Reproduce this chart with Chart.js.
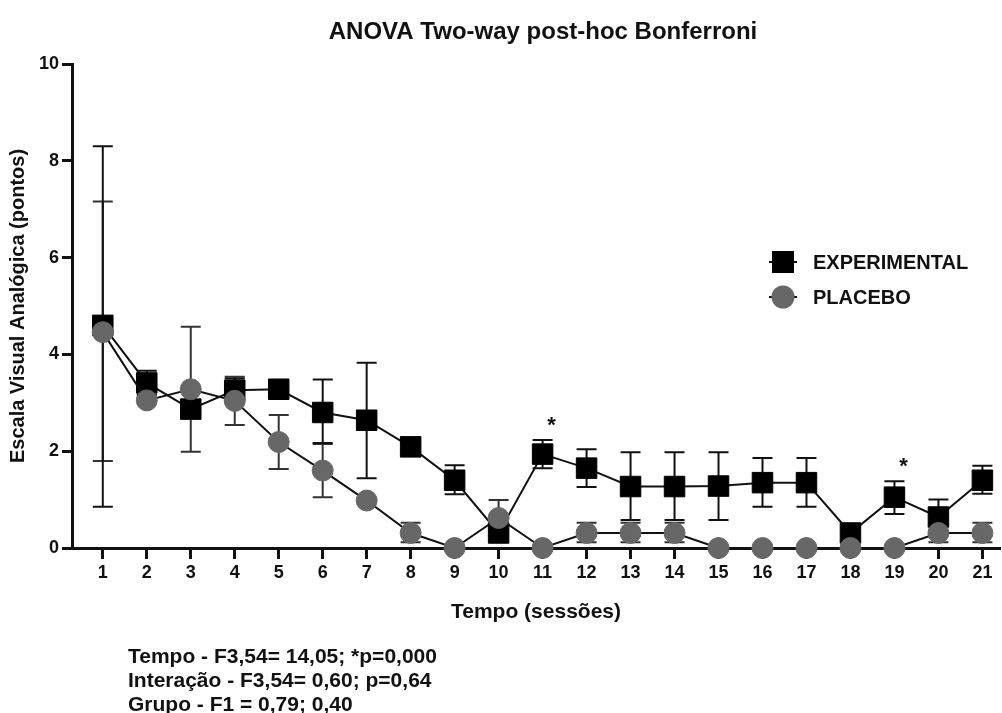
<!DOCTYPE html>
<html>
<head>
<meta charset="utf-8">
<title>ANOVA Two-way post-hoc Bonferroni</title>
<script src="https://cdn.jsdelivr.net/npm/chart.js@4.4.1/dist/chart.umd.min.js"></script>
<style>
    html, body { margin: 0; padding: 0; background: #fff; }
    #wrap { position: relative; width: 1002px; height: 713px; }
    #stats {
        position: absolute; left: 128px; top: 644px;
        font: bold 21px "Liberation Sans", Arial, sans-serif;
        line-height: 24px; color: #111;
    }
</style>
</head>
<body>
<div id="wrap">
    <canvas id="chart" width="1002" height="713"></canvas>
    <div id="stats">
        Tempo - F3,54= 14,05; *p=0,000<br>
        Interação - F3,54= 0,60; p=0,64<br>
        Grupo - F1 = 0,79; 0,40
    </div>
</div>
<script>
var sessions = [1, 2, 3, 4, 5, 6, 7, 8, 9, 10, 11, 12, 13, 14, 15, 16, 17, 18, 19, 20, 21];

var expMean = [4.6, 3.41, 2.87, 3.26, 3.28, 2.8, 2.64, 2.09, 1.4, 0.31, 1.94, 1.65, 1.27, 1.27, 1.28, 1.35, 1.35, 0.31, 1.05, 0.64, 1.4];
var expHigh = [8.3, 3.66, null, 3.5, null, 3.48, 3.83, null, 1.71, null, 2.23, 2.04, 1.98, 1.98, 1.98, 1.86, 1.86, null, 1.38, 1.0, 1.7];
var expLow  = [0.85, 3.16, null, 3.02, null, 2.17, 1.44, null, 1.11, null, 1.65, 1.26, 0.58, 0.58, 0.58, 0.85, 0.85, null, 0.7, 0.28, 1.12];

var plaMean = [4.46, 3.05, 3.28, 3.04, 2.19, 1.6, 0.98, 0.31, 0, 0.62, 0, 0.31, 0.31, 0.31, 0, 0, 0, 0, 0, 0.31, 0.31];
var plaHigh = [7.16, null, 4.57, 3.54, 2.75, 2.15, null, 0.52, null, 0.99, null, 0.52, 0.52, 0.52, null, null, null, null, null, 0.52, 0.52];
var plaLow  = [1.8, null, 1.99, 2.54, 1.63, 1.05, null, 0.12, null, 0.25, null, 0.12, 0.12, 0.12, null, null, null, null, null, 0.12, 0.12];

var starSessions = [11, 19];

var yTicks = [0, 2, 4, 6, 8, 10];

var FONT = '"Liberation Sans", Arial, sans-serif';

function toPoints(values) {
    return sessions.map(function(s, i) { return { x: s, y: values[i] }; });
}

var errorBars = {
    id: 'errorBars',
    beforeDatasetsDraw: function(chart) {
        var ctx = chart.ctx;
        var xs = chart.scales.x, ys = chart.scales.y;
        var sets = [
            { hi: plaHigh, lo: plaLow, color: '#333' },
            { hi: expHigh, lo: expLow, color: '#111' }
        ];
        ctx.save();
        ctx.lineWidth = 2;
        sets.forEach(function(set) {
            ctx.strokeStyle = set.color;
            sessions.forEach(function(s, i) {
                if (set.hi[i] == null) return;
                var px = xs.getPixelForValue(s);
                var top = ys.getPixelForValue(set.hi[i]);
                var bot = ys.getPixelForValue(set.lo[i]);
                ctx.beginPath();
                ctx.moveTo(px, top); ctx.lineTo(px, bot);
                ctx.moveTo(px - 10, top); ctx.lineTo(px + 10, top);
                ctx.moveTo(px - 10, bot); ctx.lineTo(px + 10, bot);
                ctx.stroke();
            });
        });
        ctx.restore();
    },
    afterDraw: function(chart) {
        var ctx = chart.ctx;
        var xs = chart.scales.x, ys = chart.scales.y;
        ctx.save();
        // title
        ctx.fillStyle = '#111';
        ctx.textAlign = 'center';
        ctx.textBaseline = 'middle';
        ctx.font = 'bold 24px ' + FONT;
        ctx.fillText('ANOVA Two-way post-hoc Bonferroni', 543, 32);

        // significance stars
        ctx.font = 'bold 22px ' + FONT;
        starSessions.forEach(function(s) {
            var i = sessions.indexOf(s);
            var px = xs.getPixelForValue(s);
            var py = ys.getPixelForValue(expHigh[i]);
            ctx.fillText('*', px + 9, py - 14);
        });

        // legend
        ctx.textAlign = 'left';
        ctx.font = 'bold 20px ' + FONT;
        chart.data.datasets.forEach(function(ds, k) {
            var cy = 262 + k * 35;
            var cx = 783;
            ctx.strokeStyle = '#111';
            ctx.lineWidth = 2;
            ctx.beginPath();
            ctx.moveTo(cx - 14, cy); ctx.lineTo(cx + 14, cy);
            ctx.stroke();
            ctx.fillStyle = ds.pointBackgroundColor;
            if (ds.pointStyle === 'rect') {
                ctx.fillRect(cx - 11, cy - 11, 22, 22);
            } else {
                ctx.beginPath();
                ctx.arc(cx, cy, 11.5, 0, Math.PI * 2);
                ctx.fill();
            }
            ctx.fillStyle = '#111';
            ctx.fillText(ds.label, 813, cy + 1);
        });
        ctx.restore();
    }
};

var ctx = document.getElementById('chart').getContext('2d');
var chart = new Chart(ctx, {
    type: 'line',
    data: {
        datasets: [
            {
                label: 'EXPERIMENTAL',
                data: toPoints(expMean),
                borderColor: '#111',
                borderWidth: 2,
                pointStyle: 'rect',
                pointRadius: 14.5,
                pointBackgroundColor: '#000',
                pointBorderColor: '#000',
                pointBorderWidth: 1,
                clip: false,
                order: 2
            },
            {
                label: 'PLACEBO',
                data: toPoints(plaMean),
                borderColor: '#111',
                borderWidth: 2,
                pointStyle: 'circle',
                pointRadius: 10.5,
                pointBackgroundColor: '#676767',
                pointBorderColor: '#676767',
                pointBorderWidth: 1,
                clip: false,
                order: 1
            }
        ]
    },
    options: {
        responsive: false,
        animation: false,
        events: [],
        layout: { autoPadding: false, padding: { top: 64, right: 2, bottom: 80, left: 0 } },
        plugins: {
            legend: { display: false },
            title: { display: false },
            tooltip: { enabled: false }
        },
        scales: {
            x: {
                type: 'linear',
                min: 0.3,
                max: 21.4,
                afterFit: function(scale) { scale.height = 85; },
                afterBuildTicks: function(scale) {
                    scale.ticks = sessions.map(function(s) { return { value: s }; });
                },
                border: { display: true, color: '#111', width: 3 },
                grid: {
                    display: true, drawOnChartArea: false, drawTicks: true,
                    tickLength: 11, tickWidth: 3, tickColor: '#111'
                },
                ticks: {
                    autoSkip: false, maxRotation: 0, padding: 3,
                    color: '#111',
                    font: { family: FONT, size: 18, weight: 'bold' }
                },
                title: {
                    display: true,
                    text: 'Tempo (sessões)',
                    color: '#111',
                    font: { family: FONT, size: 21, weight: 'bold' },
                    padding: { top: 0, bottom: 8 }
                }
            },
            y: {
                min: 0,
                max: 10,
                afterFit: function(scale) { scale.width = 72; },
                afterBuildTicks: function(scale) {
                    scale.ticks = yTicks.map(function(v) { return { value: v }; });
                },
                border: { display: true, color: '#111', width: 3 },
                grid: {
                    display: true, drawOnChartArea: false, drawTicks: true,
                    tickLength: 10, tickWidth: 3, tickColor: '#111'
                },
                ticks: {
                    padding: 3,
                    color: '#111',
                    font: { family: FONT, size: 18, weight: 'bold' }
                },
                title: {
                    display: true,
                    text: 'Escala Visual Analógica (pontos)',
                    color: '#111',
                    font: { family: FONT, size: 20, weight: 'bold' },
                    padding: { top: 6, bottom: 0 }
                }
            }
        }
    },
    plugins: [errorBars]
});
</script>
</body>
</html>
